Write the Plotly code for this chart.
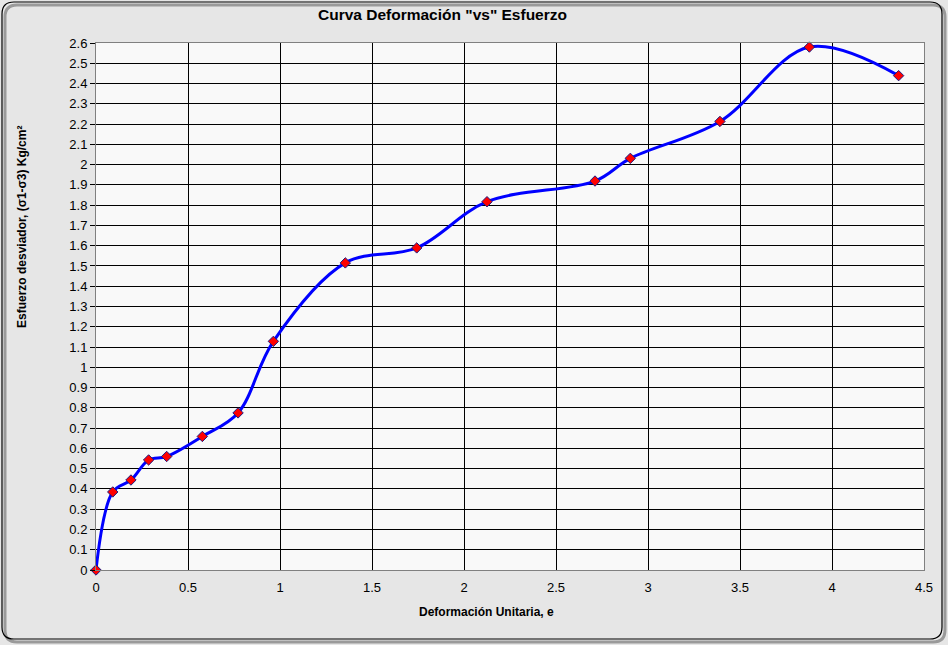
import plotly.graph_objects as go

deformacion = [0, 0.091, 0.190, 0.286, 0.384, 0.578, 0.772, 0.964, 1.355, 1.743, 2.125, 2.712, 2.904, 3.391, 3.877, 4.362]
esfuerzo = [0, 0.385, 0.444, 0.543, 0.560, 0.659, 0.775, 1.128, 1.515, 1.589, 1.817, 1.919, 2.031, 2.213, 2.580, 2.439]

x_ticks = [0, 0.5, 1, 1.5, 2, 2.5, 3, 3.5, 4, 4.5]
x_labels = ["0", "0.5", "1", "1.5", "2", "2.5", "3", "3.5", "4", "4.5"]
y_ticks = [round(i * 0.1, 1) for i in range(27)]
y_labels = [("%g" % v) for v in y_ticks]

title_text = '<b>Curva Deformación "vs" Esfuerzo</b>'
x_title = "<b>Deformación Unitaria, e</b>"
y_title = "<b>Esfuerzo desviador, (σ1-σ3) Kg/cm²</b>"

font_name = "Liberation Sans, Arial, sans-serif"

W, H = 948, 645
ML, MR, MT, MB = 96, 24, 43, 75

fig = go.Figure()
fig.add_trace(go.Scatter(
    x=deformacion, y=esfuerzo, mode="lines+markers",
    line=dict(color="#0000ff", width=3, shape="spline", smoothing=1.0),
    marker=dict(symbol="diamond", size=8, color="#ff0000",
                line=dict(color="#1a1a80", width=1)),
    showlegend=False, cliponaxis=False,
))

fig.update_layout(
    width=W, height=H,
    margin=dict(l=ML, r=MR, t=MT, b=MB),
    paper_bgcolor="#e6e6e6",
    plot_bgcolor="#f9f9f9",
    font=dict(family=font_name, color="#000000", size=13),
    xaxis=dict(range=[0, 4.5], tickvals=x_ticks, ticktext=x_labels,
               showgrid=True, gridcolor="#000000", gridwidth=1,
               showline=True, linecolor="#808080", linewidth=1, mirror=True,
               ticks="", ticklabelstandoff=5,
               tickfont=dict(size=13), zeroline=False),
    yaxis=dict(range=[0, 2.6], tickvals=y_ticks, ticktext=y_labels,
               showgrid=True, gridcolor="#000000", gridwidth=1,
               showline=True, linecolor="#808080", linewidth=1, mirror=True,
               ticks="outside", ticklen=5, tickcolor="#000000",
               tickfont=dict(size=13), zeroline=False),
)

pw = W - ML - MR
ph = H - MT - MB
def fx(xp):
    return (xp - ML) / pw
def fy(yp):
    return (H - MB - yp) / ph

fig.add_annotation(text=title_text, xref="paper", yref="paper", x=fx(442), y=fy(15),
                   xanchor="center", yanchor="middle", showarrow=False, font=dict(size=15.5))
fig.add_annotation(text=x_title, xref="paper", yref="paper", x=fx(486), y=fy(612),
                   xanchor="center", yanchor="middle", showarrow=False, font=dict(size=12))
fig.add_annotation(text=y_title, xref="paper", yref="paper", x=fx(22), y=fy(227),
                   xanchor="center", yanchor="middle", showarrow=False, textangle=-90,
                   font=dict(size=12))

def path_paper(x0, y0, x1, y1, r):
    return (f"M{fx(x0+r)},{fy(y0)} L{fx(x1-r)},{fy(y0)} Q{fx(x1)},{fy(y0)} {fx(x1)},{fy(y0+r)} "
            f"L{fx(x1)},{fy(y1-r)} Q{fx(x1)},{fy(y1)} {fx(x1-r)},{fy(y1)} L{fx(x0+r)},{fy(y1)} "
            f"Q{fx(x0)},{fy(y1)} {fx(x0)},{fy(y1-r)} L{fx(x0)},{fy(y0+r)} Q{fx(x0)},{fy(y0)} {fx(x0+r)},{fy(y0)} Z")

fig.add_shape(type="path", xref="paper", yref="paper",
              path=path_paper(5, 5, 945, 642, 12),
              line=dict(color="#9a9a9a", width=3), layer="below")
fig.add_shape(type="path", xref="paper", yref="paper",
              path=path_paper(2, 2, 942, 639, 12),
              line=dict(color="#000000", width=1.2), layer="above")

fig.write_html("out.html", config={"displayModeBar": False},
               post_script="document.body.style.margin='0';document.body.style.overflow='hidden';")
